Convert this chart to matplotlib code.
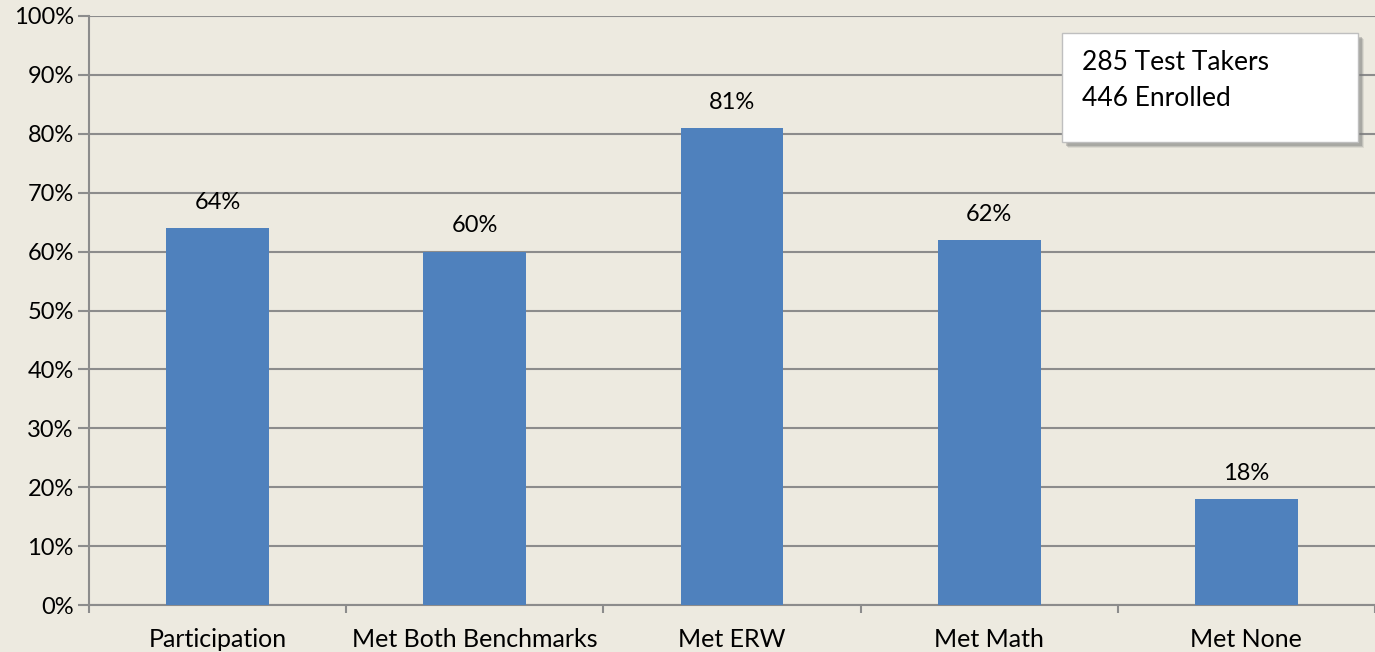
import matplotlib
matplotlib.use("Agg")
import matplotlib.pyplot as plt
from matplotlib.patches import Rectangle
from matplotlib.ticker import FixedLocator

categories = ["Participation", "Met Both Benchmarks", "Met ERW", "Met Math", "Met None"]
values = [64, 60, 81, 62, 18]
labels = ["64%", "60%", "81%", "62%", "18%"]
box_lines = ["285 Test Takers", "446 Enrolled"]

plt.rcParams['font.family'] = ['Lato', 'DejaVu Sans']
bg = "#EDEAE0"
fig = plt.figure(figsize=(13.75, 6.52), dpi=100, facecolor=bg)
ax = fig.add_axes([89/1375, 47/652, 1 - 89/1375, (605-16)/652])
ax.set_facecolor(bg)

x = list(range(len(categories)))
ax.bar(x, values, width=0.4, color="#4F81BD", zorder=3)
for xi, v, lab in zip(x, values, labels):
    ax.text(xi, v + 2.6, lab, ha="center", va="bottom", fontsize=17, color="#000000")

ax.set_xlim(-0.5, len(categories) - 0.5)
ax.set_ylim(0, 100)
ax.set_yticks(range(0, 101, 10))
ax.set_yticklabels([f"{t}%" for t in range(0, 101, 10)], fontsize=17)
ax.yaxis.grid(True, color="#8C8C8C", linewidth=1.5, zorder=0)
ax.set_xticks(x)
ax.set_xticklabels(categories, fontsize=18)
ax.tick_params(axis="x", length=0, pad=16.5)
ax.xaxis.set_minor_locator(FixedLocator([i - 0.5 for i in range(len(categories) + 1)]))
ax.tick_params(axis="x", which="minor", length=6, width=1.5, color="#8C8C8C")
ax.tick_params(axis="y", length=8, width=1.5, color="#8C8C8C", pad=3)
for s in ["top", "right"]:
    ax.spines[s].set_visible(False)
for s in ["left", "bottom"]:
    ax.spines[s].set_color("#8C8C8C")
    ax.spines[s].set_linewidth(1.5)

# text box with shadow
bx0, by0, bx1, by1 = 1062, 652 - 142, 1358, 652 - 33
for off, a in [(6, 0.15), (5, 0.25), (4, 0.35)]:
    shadow = Rectangle(((bx0 + off) / 1375, (by0 - off) / 652), (bx1 - bx0) / 1375, (by1 - by0) / 652,
                       transform=fig.transFigure, facecolor="#7A7A7A", edgecolor="none", alpha=a, zorder=5)
    fig.patches.append(shadow)
box = Rectangle((bx0 / 1375, by0 / 652), (bx1 - bx0) / 1375, (by1 - by0) / 652,
                transform=fig.transFigure, facecolor="white", edgecolor="#BFBFBF", linewidth=1, zorder=6)
fig.patches.append(box)
fig.text(1082 / 1375, (652 - 62) / 652, box_lines[0], fontsize=19, va="center", ha="left", zorder=7)
fig.text(1082 / 1375, (652 - 98) / 652, box_lines[1], fontsize=19, va="center", ha="left", zorder=7)

fig.savefig("out.png", dpi=100, facecolor=bg)
